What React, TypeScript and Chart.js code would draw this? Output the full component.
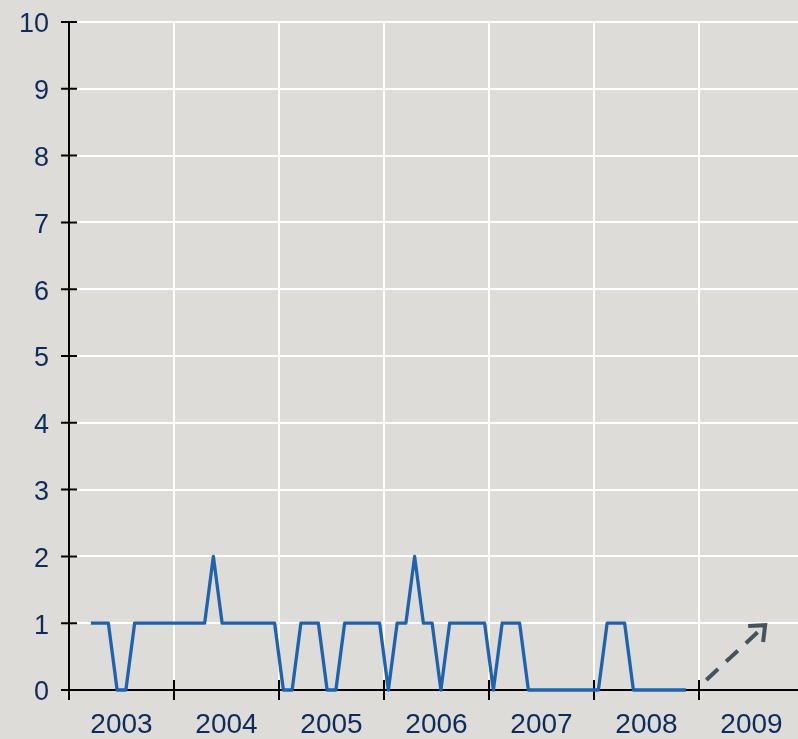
import React, { useEffect, useRef } from "react";
import { Chart, registerables } from "chart.js";

Chart.register(...registerables);

// Monthly counts, Mar 2003 .. Nov 2008
const startYear = 2003;
const startMonthIndex = 2; // March
const monthlyValues = [
  1, 1, 1, 0, 0, 1, 1, 1, 1, 1, // Mar 2003 - Dec 2003
  1, 1, 1, 1, 2, 1, 1, 1, 1, 1, 1, 1, // 2004
  0, 0, 1, 1, 1, 0, 0, 1, 1, 1, 1, 1, // 2005
  0, 1, 1, 2, 1, 1, 0, 1, 1, 1, 1, 1, // 2006
  0, 1, 1, 1, 0, 0, 0, 0, 0, 0, 0, 0, // 2007
  0, 1, 1, 1, 0, 0, 0, 0, 0, 0, 0, // Jan 2008 - Nov 2008
];
const yearTicks = [2003, 2004, 2005, 2006, 2007, 2008, 2009, 2010];
const yearLabels = ["2003", "2004", "2005", "2006", "2007", "2008", "2009"];
const yTicks = [0, 1, 2, 3, 4, 5, 6, 7, 8, 9, 10];
// Dashed trend arrow in 2009
const arrowX = [2009.07, 2009.63];
const arrowY = [0.15, 0.97];

const LABEL_COLOR = "#0d2c5c";
const FONT = '"Liberation Sans", Arial, sans-serif';

const linePoints = monthlyValues.map((v, i) => ({
  x: startYear + (startMonthIndex + i + 0.5) / 12,
  y: v,
}));
const arrowPoints = arrowX.map((x, i) => ({ x, y: arrowY[i] }));

const tickMarksPlugin = {
  id: "tickMarks",
  beforeDatasetsDraw(chart: any) {
    const { ctx, scales } = chart;
    const xs = scales.x;
    const ys = scales.y;
    const x0 = xs.left;
    const y0 = ys.bottom;
    ctx.save();
    ctx.strokeStyle = "#000";
    ctx.lineWidth = 2;
    ctx.beginPath();
    yTicks.forEach((t) => {
      const py = ys.getPixelForValue(t);
      ctx.moveTo(x0 - 8, py);
      ctx.lineTo(x0 + 8, py);
    });
    yearTicks.forEach((t) => {
      const px = xs.getPixelForValue(t);
      ctx.moveTo(px, y0 - 10);
      ctx.lineTo(px, y0 + 10);
    });
    ctx.stroke();
    ctx.restore();
  },
  afterDatasetsDraw(chart: any) {
    const meta = chart.getDatasetMeta(1);
    if (!meta || !meta.data || meta.data.length < 2) return;
    const p0 = meta.data[meta.data.length - 2];
    const p1 = meta.data[meta.data.length - 1];
    const ang = Math.atan2(p1.y - p0.y, p1.x - p0.x);
    const len = 17;
    const spread = 0.7;
    const { ctx } = chart;
    ctx.save();
    ctx.strokeStyle = "#45535d";
    ctx.lineWidth = 4;
    ctx.lineCap = "butt";
    ctx.lineJoin = "miter";
    ctx.beginPath();
    ctx.moveTo(
      p1.x - len * Math.cos(ang - spread),
      p1.y - len * Math.sin(ang - spread)
    );
    ctx.lineTo(p1.x, p1.y);
    ctx.lineTo(
      p1.x - len * Math.cos(ang + spread),
      p1.y - len * Math.sin(ang + spread)
    );
    ctx.stroke();
    ctx.restore();
  },
};

export default function App() {
  const canvasRef = useRef<HTMLCanvasElement | null>(null);

  useEffect(() => {
    document.body.style.margin = "0";
    const canvas = canvasRef.current;
    if (!canvas) return;
    const xTickValues: number[] = [];
    yearTicks.forEach((y, i) => {
      xTickValues.push(y);
      if (i < yearLabels.length) xTickValues.push(y + 0.5);
    });
    const chart = new Chart(canvas, {
      type: "line",
      data: {
        datasets: [
          {
            data: linePoints,
            borderColor: "#1f62ae",
            borderWidth: 3.3,
            borderJoinStyle: "round",
            pointRadius: 0,
            tension: 0,
            clip: false as any,
          },
          {
            data: arrowPoints,
            borderColor: "#45535d",
            borderWidth: 4,
            borderDash: [16, 11],
            pointRadius: 0,
            clip: false as any,
          },
        ],
      },
      options: {
        animation: false,
        responsive: true,
        maintainAspectRatio: false,
        layout: { padding: { top: 22, right: 0, left: 0, bottom: 0 } },
        plugins: {
          legend: { display: false },
          tooltip: { enabled: false },
        },
        scales: {
          x: {
            type: "linear",
            min: 2003,
            max: 2010,
            afterBuildTicks: (scale: any) => {
              scale.ticks = xTickValues.map((v) => ({ value: v }));
            },
            afterFit: (scale: any) => {
              scale.height = 49;
              scale.paddingLeft = 0;
              scale.paddingRight = 0;
            },
            grid: {
              color: (ctx: any) =>
                ctx.tick && ctx.tick.value % 1 === 0 ? "#ffffff" : "rgba(0,0,0,0)",
              lineWidth: 2,
              drawTicks: false,
            },
            border: { color: "#000", width: 2 },
            ticks: {
              autoSkip: false,
              maxRotation: 0,
              minRotation: 0,
              padding: 18,
              color: LABEL_COLOR,
              font: { family: FONT, size: 28 },
              callback: (value: any) => {
                const v = Number(value);
                if (v % 1 === 0) return "";
                const idx = Math.floor(v) - yearTicks[0];
                return yearLabels[idx] ?? "";
              },
            },
          },
          y: {
            min: 0,
            max: 10,
            afterBuildTicks: (scale: any) => {
              scale.ticks = yTicks.map((v) => ({ value: v }));
            },
            afterFit: (scale: any) => {
              scale.width = 69;
              scale.paddingTop = 0;
              scale.paddingBottom = 0;
            },
            grid: { color: "#ffffff", lineWidth: 2, drawTicks: false },
            border: { color: "#000", width: 2 },
            ticks: {
              padding: 20,
              labelOffset: 3,
              color: LABEL_COLOR,
              font: { family: FONT, size: 27 },
              callback: (value: any) => String(value),
            },
          },
        },
      },
      plugins: [tickMarksPlugin],
    });
    return () => chart.destroy();
  }, []);

  return (
    <div
      style={{
        position: "fixed",
        left: 0,
        top: 0,
        width: 798,
        height: 739,
        overflow: "hidden",
        background: "#dddcd8",
      }}
    >
      <div style={{ position: "relative", width: 804, height: 739 }}>
        <canvas ref={canvasRef} />
      </div>
    </div>
  );
}
